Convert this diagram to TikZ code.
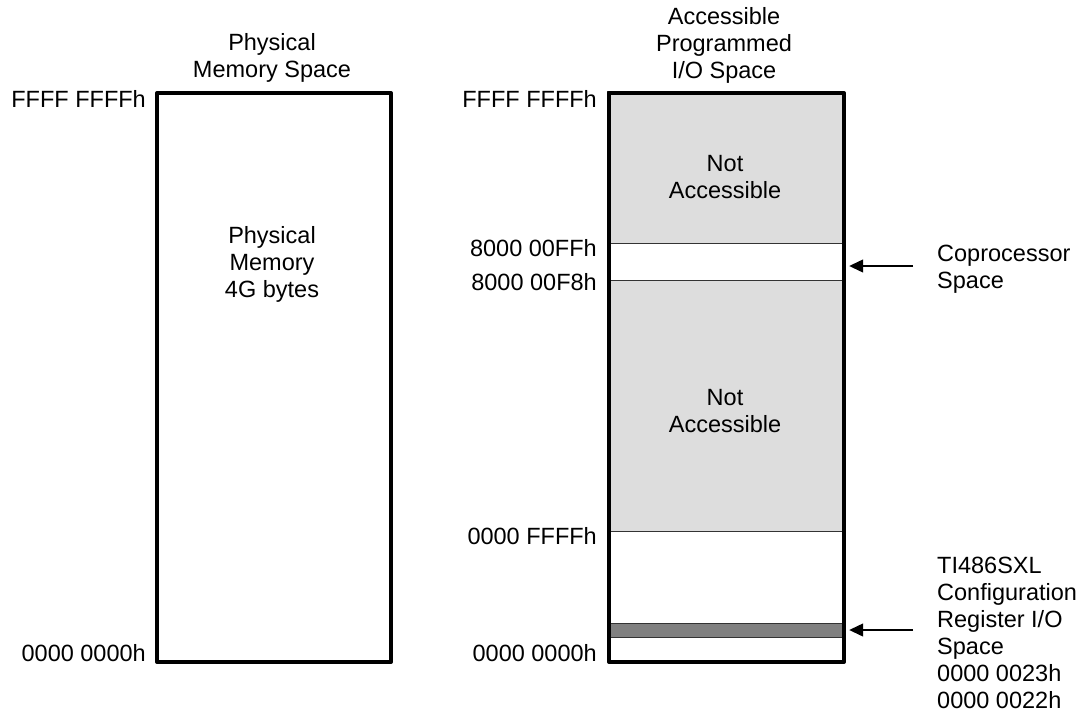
\documentclass[tikz,border=0pt]{standalone}
\usepackage{fontspec}
\setmainfont{Liberation Sans}
\usetikzlibrary{arrows.meta}
\definecolor{lightfill}{HTML}{DDDDDD}
\definecolor{darkfill}{HTML}{808080}
\definecolor{linegray}{HTML}{333333}
\begin{document}
\begin{tikzpicture}[x=1pt,y=-1pt,
  txt/.style={font=\fontsize{23.5}{27}\selectfont, align=center, inner sep=0pt},
  region/.style={draw=linegray, line width=1.2pt, anchor=north west, inner sep=0pt, minimum width=235pt},
  frame/.style={draw=black, line width=4pt, anchor=north west, inner sep=0pt, line join=round},
  arr/.style={line width=1.3pt, -{Triangle[length=14pt,width=13pt]}}]
\useasboundingbox (0,0) rectangle (1086,712);
% ---------- left column ----------
\node[txt] (ltitle) at (272,58) {Physical\\Memory Space};
\node[frame, minimum width=234pt, minimum height=569pt] (lbox) at (155,91) {};
\node[txt] (lbody) at (272,264) {Physical\\Memory\\4G bytes};
\node[txt, anchor=east] (ltop) at (146,99) {FFFF FFFFh};
\node[txt, anchor=east] (lbot) at (146,653) {0000 0000h};
% ---------- right column ----------
\node[txt] (rtitle) at (724,45) {Accessible\\Programmed\\I/O Space};
\node[region, fill=lightfill, minimum height=152pt] (na1) at (607,91) {};
\node[region, fill=white, minimum height=37pt] (copro) at (607,243) {};
\node[region, fill=lightfill, minimum height=251pt] (na2) at (607,280) {};
\node[region, fill=white, minimum height=92pt] (low) at (607,531) {};
\node[region, fill=darkfill, minimum height=14pt] (cfg) at (607,623) {};
\node[region, fill=white, minimum height=23pt] (bot) at (607,637) {};
\node[frame, minimum width=235pt, minimum height=569pt] (rbox) at (607,91) {};
\node[txt] (na1t) at (725,177) {Not\\Accessible};
\node[txt] (na2t) at (725,411) {Not\\Accessible};
\node[txt, anchor=east] (r1) at (597,99) {FFFF FFFFh};
\node[txt, anchor=east] (r2) at (597,248) {8000 00FFh};
\node[txt, anchor=east] (r3) at (597,282) {8000 00F8h};
\node[txt, anchor=east] (r4) at (597,536) {0000 FFFFh};
\node[txt, anchor=east] (r5) at (597,653) {0000 0000h};
% ---------- annotations ----------
\node[txt, anchor=west, align=left] (coprot) at (937,269) {Coprocessor\\Space};
\node[txt, anchor=west, align=left] (cfgt) at (937,633) {TI486SXL\\Configuration\\Register I/O\\Space\\0000 0023h\\0000 0022h};
\coordinate (c1) at (913,266);
\coordinate (c2) at (913,630);
\draw[arr] (c1) -- ([xshift=6pt]copro.east |- c1);
\draw[arr] (c2) -- ([xshift=6pt]cfg.east |- c2);
\end{tikzpicture}
\end{document}
